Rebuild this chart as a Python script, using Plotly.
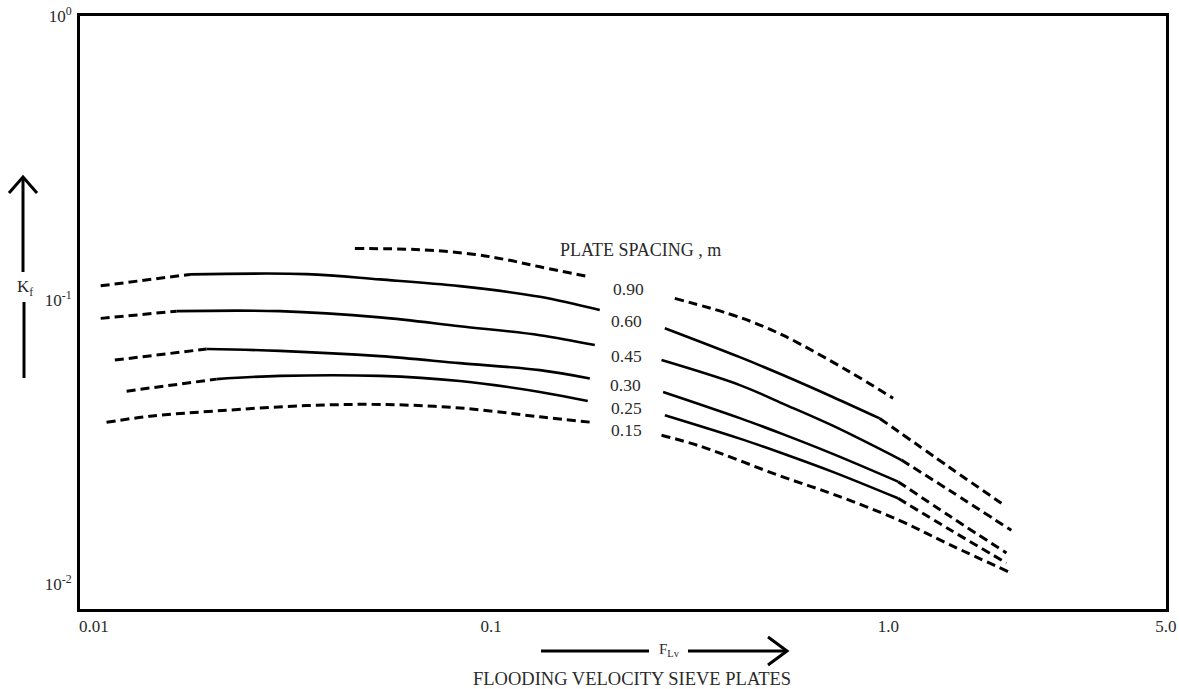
import plotly.graph_objects as go

# ---------------- data ----------------
plate_spacings = ["0.90", "0.60", "0.45", "0.30", "0.25", "0.15"]

x_tick_vals = [0.01, 0.1, 1.0, 5.0]
x_tick_text = ["0.01", "0.1", "1.0", "5.0"]
y_tick_vals = [1.0, 0.1, 0.01]
y_tick_text = ["10<sup>0</sup>", "10<sup>-1</sup>", "10<sup>-2</sup>"]

# 0.90 m
s090_left_dash_x = [0.0454, 0.0661, 0.0900, 0.1093, 0.1327, 0.1772]
s090_left_dash_y = [0.1522, 0.1508, 0.1454, 0.1390, 0.1312, 0.1210]
s090_right_dash_x = [0.290, 0.4227, 0.5423, 0.7995, 1.028]
s090_right_dash_y = [0.1016, 0.0871, 0.0754, 0.0560, 0.0452]

# 0.60 m
s060_left_dash_x = [0.0104, 0.01745]
s060_left_dash_y = [0.1125, 0.1234]
s060_left_solid_x = [0.01745, 0.0343, 0.0525, 0.0834, 0.1327, 0.1877]
s060_left_solid_y = [0.1234, 0.1237, 0.1185, 0.1122, 0.1029, 0.0924]
s060_right_solid_x = [0.2737, 0.4227, 0.5423, 0.7245, 0.9514]
s060_right_solid_y = [0.0798, 0.0631, 0.0546, 0.0457, 0.0384]
s060_right_dash_x = [0.9514, 1.427, 1.926]
s060_right_dash_y = [0.0384, 0.0258, 0.0193]

# 0.45 m
s045_left_dash_x = [0.0104, 0.01615]
s045_left_dash_y = [0.0864, 0.0916]
s045_left_solid_x = [0.01615, 0.02939, 0.05248, 0.0834, 0.1327, 0.1824]
s045_left_solid_y = [0.0916, 0.0916, 0.0871, 0.0811, 0.0754, 0.0696]
s045_right_solid_x = [0.2685, 0.4227, 0.5423, 0.7245, 1.079]
s045_right_solid_y = [0.0616, 0.0503, 0.0433, 0.0362, 0.0274]
s045_right_dash_x = [1.079, 1.427, 2.040]
s045_right_dash_y = [0.0274, 0.0214, 0.0155]

# 0.30 m
s030_left_dash_x = [0.01129, 0.01921]
s030_left_dash_y = [0.0616, 0.0674]
s030_left_solid_x = [0.01921, 0.02939, 0.05248, 0.0834, 0.1327, 0.1772]
s030_left_solid_y = [0.0674, 0.0664, 0.0636, 0.0601, 0.0568, 0.0531]
s030_right_solid_x = [0.2710, 0.4227, 0.5423, 0.7245, 1.058]
s030_right_solid_y = [0.0476, 0.0385, 0.0338, 0.0288, 0.0230]
s030_right_dash_x = [1.058, 1.427, 1.983]
s030_right_dash_y = [0.0230, 0.0174, 0.0129]

# 0.25 m
s025_left_dash_x = [0.01209, 0.02036]
s025_left_dash_y = [0.0479, 0.0528]
s025_left_solid_x = [0.02036, 0.02939, 0.05248, 0.0834, 0.1327, 0.1751]
s025_left_solid_y = [0.0528, 0.0542, 0.0542, 0.0520, 0.0476, 0.0442]
s025_right_solid_x = [0.2737, 0.4227, 0.5423, 0.7245, 1.058]
s025_right_solid_y = [0.0394, 0.0326, 0.0289, 0.0249, 0.0201]
s025_right_dash_x = [1.058, 1.427, 1.983]
s025_right_dash_y = [0.0201, 0.0156, 0.0119]

# 0.15 m
s015_left_dash_x = [0.01076, 0.01384, 0.02036, 0.0343, 0.05248, 0.0834, 0.1327, 0.1824]
s015_left_dash_y = [0.0372, 0.0391, 0.0408, 0.0426, 0.0430, 0.0418, 0.0389, 0.0371]
s015_right_dash_x = [0.2685, 0.3352, 0.5423, 0.7245, 1.056, 1.427, 2.001]
s015_right_dash_y = [0.0335, 0.0307, 0.0239, 0.0208, 0.0169, 0.0138, 0.0111]

solid_segments = [
    (s060_left_solid_x, s060_left_solid_y), (s060_right_solid_x, s060_right_solid_y),
    (s045_left_solid_x, s045_left_solid_y), (s045_right_solid_x, s045_right_solid_y),
    (s030_left_solid_x, s030_left_solid_y), (s030_right_solid_x, s030_right_solid_y),
    (s025_left_solid_x, s025_left_solid_y), (s025_right_solid_x, s025_right_solid_y),
]
dashed_segments = [
    (s090_left_dash_x, s090_left_dash_y), (s090_right_dash_x, s090_right_dash_y),
    (s060_left_dash_x, s060_left_dash_y), (s060_right_dash_x, s060_right_dash_y),
    (s045_left_dash_x, s045_left_dash_y), (s045_right_dash_x, s045_right_dash_y),
    (s030_left_dash_x, s030_left_dash_y), (s030_right_dash_x, s030_right_dash_y),
    (s025_left_dash_x, s025_left_dash_y), (s025_right_dash_x, s025_right_dash_y),
    (s015_left_dash_x, s015_left_dash_y), (s015_right_dash_x, s015_right_dash_y),
]

# ---------------- figure ----------------
W, H = 1179, 689
ML, MR, MT, MB = 80, 13, 16, 80
FONT = "Liberation Serif, Times New Roman, serif"
TXT = "#2a2a2a"


def pxx(p):
    return (p - ML) / (W - ML - MR)


def pxy(p):
    return (H - MB - p) / (H - MT - MB)


fig = go.Figure()
for xs, ys in solid_segments:
    fig.add_trace(go.Scatter(x=xs, y=ys, mode="lines", showlegend=False, hoverinfo="skip",
                             line=dict(color="black", width=2.6, shape="spline", smoothing=1.0)))
for xs, ys in dashed_segments:
    fig.add_trace(go.Scatter(x=xs, y=ys, mode="lines", showlegend=False, hoverinfo="skip",
                             line=dict(color="black", width=3, dash="9px,5px",
                                       shape="spline", smoothing=1.0)))

axis_common = dict(type="log", showgrid=False, zeroline=False, showline=True, mirror=True,
                   linecolor="black", linewidth=3, ticks="", tickmode="array", automargin=False,
                   tickfont=dict(family=FONT, size=17, color=TXT))

fig.update_xaxes(range=[-2.035, 0.699], tickvals=x_tick_vals, ticktext=x_tick_text,
                 ticklabelstandoff=0, **axis_common)
fig.update_yaxes(range=[-2.0866, 0.001], tickvals=y_tick_vals, ticktext=y_tick_text,
                 ticklabelstandoff=2, **axis_common)

annotations = []
label_pos = [(628, 289), (626, 321), (626, 356), (625, 385), (626, 408), (626, 430)]
for txt, (lx, ly) in zip(plate_spacings, label_pos):
    annotations.append(dict(text=txt, x=pxx(lx), y=pxy(ly), xref="paper", yref="paper",
                            showarrow=False, xanchor="center", yanchor="middle",
                            font=dict(family=FONT, size=17.5, color=TXT)))
annotations.append(dict(text="PLATE SPACING , m", x=pxx(640), y=pxy(250), xref="paper", yref="paper",
                        showarrow=False, xanchor="center", yanchor="middle",
                        font=dict(family=FONT, size=18, color=TXT)))
annotations.append(dict(text="K<sub>f</sub>", x=pxx(25), y=pxy(288), xref="paper", yref="paper",
                        showarrow=False, xanchor="center", yanchor="middle",
                        font=dict(family=FONT, size=17, color=TXT)))
annotations.append(dict(text="F<sub>Lv</sub>", x=pxx(670), y=pxy(650), xref="paper", yref="paper",
                        showarrow=False, xanchor="center", yanchor="middle",
                        font=dict(family=FONT, size=15, color=TXT)))
annotations.append(dict(text="FLOODING VELOCITY SIEVE PLATES", x=pxx(632), y=pxy(679),
                        xref="paper", yref="paper", showarrow=False,
                        xanchor="center", yanchor="middle",
                        font=dict(family=FONT, size=18.5, color=TXT)))

arrow_line = dict(color="black", width=3)
shapes = [
    # K_f arrow (vertical)
    dict(type="line", xref="paper", yref="paper", x0=pxx(23), x1=pxx(23), y0=pxy(272), y1=pxy(178),
         line=arrow_line),
    dict(type="line", xref="paper", yref="paper", x0=pxx(24), x1=pxx(24), y0=pxy(378), y1=pxy(302),
         line=arrow_line),
    dict(type="path", xref="paper", yref="paper",
         path=f"M {pxx(9)} {pxy(193)} L {pxx(23)} {pxy(177)} L {pxx(37)} {pxy(193)}",
         line=arrow_line),
    # F_Lv arrow (horizontal)
    dict(type="line", xref="paper", yref="paper", x0=pxx(541), x1=pxx(649), y0=pxy(651), y1=pxy(651),
         line=arrow_line),
    dict(type="line", xref="paper", yref="paper", x0=pxx(688), x1=pxx(786), y0=pxy(651), y1=pxy(651),
         line=arrow_line),
    dict(type="path", xref="paper", yref="paper",
         path=f"M {pxx(768)} {pxy(637)} L {pxx(787)} {pxy(651)} L {pxx(768)} {pxy(665)}",
         line=arrow_line),
]

fig.update_layout(width=W, height=H, margin=dict(l=ML, r=MR, t=MT, b=MB),
                  paper_bgcolor="white", plot_bgcolor="white",
                  annotations=annotations, shapes=shapes, showlegend=False)

fig.write_html("out.html")
